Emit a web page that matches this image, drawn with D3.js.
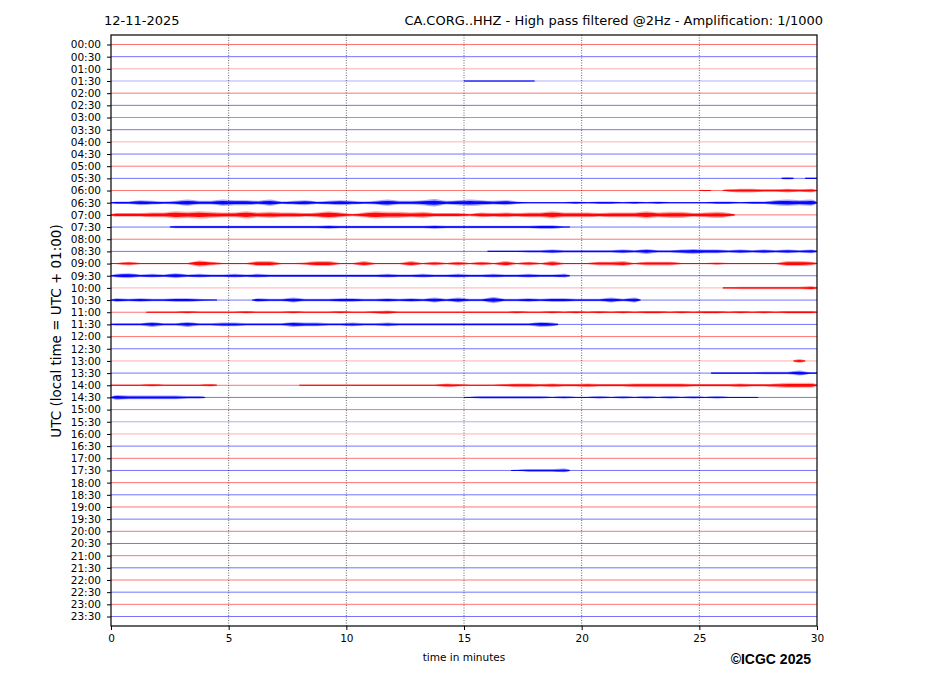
<!DOCTYPE html>
<html><head><meta charset="utf-8">
<script src="https://cdn.jsdelivr.net/npm/d3@7"></script>
<style>
body{margin:0;background:#fff;}
svg{display:block;font-family:"DejaVu Sans",sans-serif;}
</style></head>
<body><svg id="c" width="927" height="696"></svg>
<script>
// ---- data ----
const dateLabel = "12-11-2025";
const titleText = "CA.CORG..HHZ - High pass filtered @2Hz - Amplification: 1/1000";
const yLabel = "UTC (local time = UTC + 01:00)";
const xLabel = "time in minutes";
const credit = "©ICGC 2025";
const rowLabels = ["00:00","00:30","01:00","01:30","02:00","02:30","03:00","03:30","04:00","04:30",
  "05:00","05:30","06:00","06:30","07:00","07:30","08:00","08:30","09:00","09:30",
  "10:00","10:30","11:00","11:30","12:00","12:30","13:00","13:30","14:00","14:30",
  "15:00","15:30","16:00","16:30","17:00","17:30","18:00","18:30","19:00","19:30",
  "20:00","20:30","21:00","21:30","22:00","22:30","23:00","23:30"];
const xTicks = [0,5,10,15,20,25,30];
const fadedRows = ["01:00","01:30","04:00","10:00","13:00","15:30","16:00"];
// amplitude envelope per half-minute (60 values per row, level 0-9)
const envelopes = {
  "01:30": "0000000000 0000000000 0000000000 1111110000 0000000000 0000000000",
  "05:30": "0000000000 0000000000 0000000000 0000000000 0000000000 0000000201",
  "06:00": "0000000000 0000000000 0000000000 0000000000 0000000000 1023322323",
  "06:30": "2243235335 4435234234 3235334634 5434211112 1221212111 1221224545",
  "07:00": "3334465654 4645443464 2465545333 2434344644 4344464553 4530000000",
  "07:30": "0000022222 2222222232 2222222322 2222223310 0000000000 0000000000",
  "08:30": "0000000000 0000000000 0000000000 0011122322 2223242234 3323232323",
  "09:00": "1311111531 1144112441 1411141313 1314131411 1334133311 1211111443",
  "09:30": "3423242322 3232222222 2223223223 2232232230 0000000000 0000000000",
  "10:00": "0000000000 0000000000 0000000000 0000000000 0000000000 0012222223",
  "10:30": "3232233210 0032242223 3223232424 2252232332 2242400000 0000000000",
  "11:00": "0001112111 1211121112 1123111111 1111211212 1212122121 2212121222",
  "11:30": "2224224223 3222243322 3223222222 2222224300 0000000000 0000000000",
  "13:00": "0000000000 0000000000 0000000000 0000000000 0000000000 0000000030",
  "13:30": "0000000000 0000000000 0000000000 0000000000 0000000000 0111122241",
  "14:00": "1112111120 0000001111 1111111132 1112332322 3222333332 2223223444",
  "14:30": "4333332200 0000000000 0000000000 1222222121 1212121212 1211100000",
  "17:30": "0000000000 0000000000 0000000000 0000122230 0000000000 0000000000"
};

// ---- drawing ----
const svg = d3.select("#c");
const L = 111, R = 817, T = 35, B = 626;
const x = d3.scaleLinear().domain([0, 30]).range([L, R]);
const y = d3.scaleLinear().domain([0, rowLabels.length - 1]).range([44.5, 616.5]);
const amp = d3.scaleLinear().domain([0, 9]).range([0, 5.6]);
const colorOf = i => i % 2 === 0 ? "#ff0000" : "#0000ff";

// vertical grid
svg.append("g").selectAll("line").data(xTicks.filter(d => d > 0 && d < 30)).join("line")
  .attr("x1", d => x(d)).attr("x2", d => x(d)).attr("y1", T).attr("y2", B)
  .attr("stroke", "#444").attr("stroke-width", 0.8).attr("stroke-dasharray", "1,1.5");

// baselines
svg.append("g").selectAll("line").data(rowLabels).join("line")
  .attr("x1", L).attr("x2", R)
  .attr("y1", (d, i) => y(i)).attr("y2", (d, i) => y(i))
  .attr("stroke", (d, i) => colorOf(i))
  .attr("stroke-opacity", d => fadedRows.includes(d) ? 0.32 : 0.55)
  .attr("stroke-width", 1);

// envelopes: faint outer halo + saturated core
const area = d3.area().curve(d3.curveMonotoneX);
const gTr = svg.append("g");
rowLabels.forEach((lab, i) => {
  const s = envelopes[lab];
  if (!s) return;
  const vals = s.replace(/\s+/g, "").split("").map(Number);
  const pts = vals.map((v, j) => ({t: j * 0.5 + 0.25, v}));
  let runs = [], cur = [];
  pts.forEach(p => {
    if (p.v > 0) cur.push(p);
    else if (cur.length) { runs.push(cur); cur = []; }
  });
  if (cur.length) runs.push(cur);
  runs.forEach(run => {
    const ext = [{t: run[0].t - 0.25, v: 0.5}, ...run, {t: run[run.length - 1].t + 0.25, v: 0.5}];
    [[1, 0.35], [0.55, 0.95]].forEach(([k, op]) => {
      area.x(d => x(d.t))
        .y0(d => y(i) - Math.max(0.55, k * amp(d.v)))
        .y1(d => y(i) + Math.max(0.55, k * amp(d.v)));
      gTr.append("path").attr("d", area(ext)).attr("fill", colorOf(i)).attr("fill-opacity", op);
    });
  });
});

// frame
svg.append("rect").attr("x", L).attr("y", T).attr("width", R - L).attr("height", B - T)
  .attr("fill", "none").attr("stroke", "#000").attr("stroke-width", 1.2);

// axes
const yAxis = d3.axisLeft(y).tickValues(d3.range(rowLabels.length)).tickFormat(i => rowLabels[i])
  .tickSize(4).tickPadding(6);
const gy = svg.append("g").attr("transform", `translate(${L},0)`).call(yAxis);
gy.select(".domain").remove();
gy.selectAll("text").attr("font-size", 10.5).attr("font-family", "DejaVu Sans");

const xAxis = d3.axisBottom(x).tickValues(xTicks).tickFormat(d3.format("d")).tickSize(4).tickPadding(5);
const gx = svg.append("g").attr("transform", `translate(0,${B})`).call(xAxis);
gx.select(".domain").remove();
gx.selectAll("text").attr("font-size", 10.5).attr("font-family", "DejaVu Sans");

// texts
svg.append("text").attr("x", 104).attr("y", 25).attr("font-size", 13).text(dateLabel);
svg.append("text").attr("x", 823).attr("y", 25).attr("text-anchor", "end").attr("font-size", 13).text(titleText);
svg.append("text").attr("transform", "translate(61,331) rotate(-90)").attr("text-anchor", "middle")
  .attr("font-size", 13.5).text(yLabel);
svg.append("text").attr("x", x(15)).attr("y", 661).attr("text-anchor", "middle").attr("font-size", 10.5).text(xLabel);
svg.append("text").attr("x", 811).attr("y", 664).attr("text-anchor", "end").attr("font-size", 14)
  .attr("font-weight", "bold").attr("font-family", "Liberation Sans").text(credit);
</script></body></html>
